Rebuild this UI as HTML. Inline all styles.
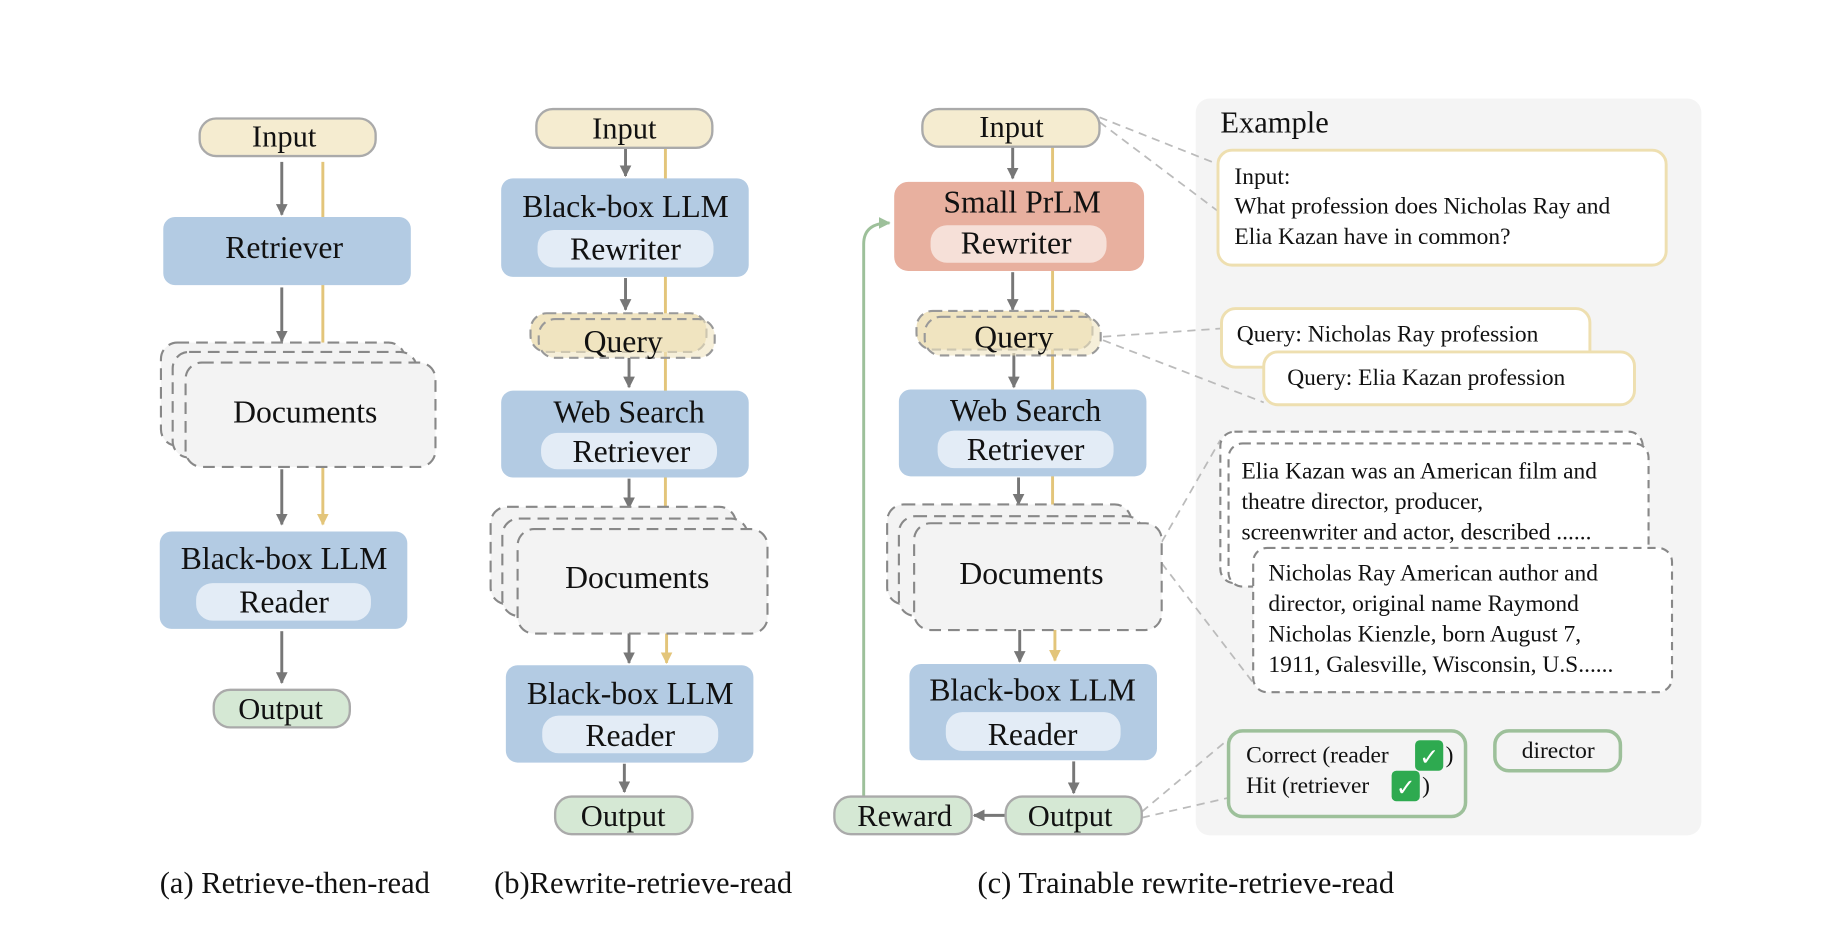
<!DOCTYPE html>
<html><head><meta charset="utf-8"><style>
html,body{margin:0;padding:0;background:#fff;width:1840px;height:928px;overflow:hidden}
svg{display:block}
svg text{font-family:"Liberation Serif","Times New Roman","Nimbus Roman","DejaVu Serif",serif;fill:#111}
</style></head><body>
<svg width="1840" height="928" viewBox="0 0 1568 791" xmlns="http://www.w3.org/2000/svg" font-family="'Liberation Serif', 'Times New Roman', serif">
<defs>
<marker id="ag" viewBox="0 0 10 10" refX="9" refY="5" markerWidth="4" markerHeight="4" orient="auto"><path d="M0,0 L10,5 L0,10 z" fill="#777"/></marker>
<marker id="ay" viewBox="0 0 10 10" refX="9" refY="5" markerWidth="4" markerHeight="4" orient="auto"><path d="M0,0 L10,5 L0,10 z" fill="#e3c57a"/></marker>
<marker id="agr" viewBox="0 0 10 10" refX="9" refY="5" markerWidth="4" markerHeight="4" orient="auto"><path d="M0,0 L10,5 L0,10 z" fill="#9dc09a"/></marker>
</defs>
<g stroke-width="2.5" fill="none">
<line x1="275" y1="138" x2="275" y2="292" stroke="#e3c57a"/>
<line x1="275" y1="398" x2="275" y2="447" stroke="#e3c57a" marker-end="url(#ay)"/>
<line x1="240" y1="138" x2="240" y2="183" stroke="#777" marker-end="url(#ag)"/>
<line x1="240" y1="245" x2="240" y2="291" stroke="#777" marker-end="url(#ag)"/>
<line x1="240" y1="400" x2="240" y2="447" stroke="#777" marker-end="url(#ag)"/>
<line x1="240" y1="538" x2="240" y2="582" stroke="#777" marker-end="url(#ag)"/>
<line x1="567" y1="126" x2="567" y2="432" stroke="#e3c57a"/>
<line x1="568" y1="540" x2="568" y2="565" stroke="#e3c57a" marker-end="url(#ay)"/>
<line x1="533" y1="126" x2="533" y2="150" stroke="#777" marker-end="url(#ag)"/>
<line x1="533" y1="237" x2="533" y2="264" stroke="#777" marker-end="url(#ag)"/>
<line x1="536" y1="305" x2="536" y2="330" stroke="#777" marker-end="url(#ag)"/>
<line x1="536" y1="408" x2="536" y2="433" stroke="#777" marker-end="url(#ag)"/>
<line x1="536" y1="536" x2="536" y2="565" stroke="#777" marker-end="url(#ag)"/>
<line x1="532" y1="651" x2="532" y2="675" stroke="#777" marker-end="url(#ag)"/>
<line x1="897" y1="125" x2="897" y2="430" stroke="#e3c57a"/>
<line x1="899" y1="537" x2="899" y2="563" stroke="#e3c57a" marker-end="url(#ay)"/>
<line x1="863" y1="125" x2="863" y2="152" stroke="#777" marker-end="url(#ag)"/>
<line x1="863" y1="232" x2="863" y2="264" stroke="#777" marker-end="url(#ag)"/>
<line x1="864" y1="301" x2="864" y2="330" stroke="#777" marker-end="url(#ag)"/>
<line x1="868" y1="407" x2="868" y2="430" stroke="#777" marker-end="url(#ag)"/>
<line x1="869" y1="532" x2="869" y2="564" stroke="#777" marker-end="url(#ag)"/>
<line x1="915" y1="649" x2="915" y2="676" stroke="#777" marker-end="url(#ag)"/>
<line x1="857" y1="695" x2="830" y2="695" stroke="#777" marker-end="url(#ag)"/>
<path d="M736,679 L736,208 Q736,190 758,190" stroke="#9dc09a" marker-end="url(#agr)"/>
</g>

<rect x="1019" y="84" width="431" height="628" rx="12" fill="#f4f4f4"/>
<g stroke="#bbb" stroke-width="1.5" stroke-dasharray="7,5" fill="none">
<line x1="937" y1="100" x2="1038" y2="140"/><line x1="937" y1="104" x2="1038" y2="180"/>
<line x1="940" y1="287" x2="1041" y2="280"/><line x1="940" y1="290" x2="1077" y2="343"/>
<line x1="990" y1="462" x2="1040" y2="375"/><line x1="990" y1="480" x2="1068" y2="582"/>
<line x1="973" y1="692" x2="1047" y2="630"/><line x1="973" y1="697" x2="1047" y2="680"/>
</g>

<rect x="170" y="101" width="150" height="32" rx="14" fill="#f5ecd0" stroke="#aaa" stroke-width="2"/>
<text x="242" y="125" font-size="26" text-anchor="middle">Input</text>
<rect x="139" y="185" width="211" height="58" rx="10" fill="#b3cbe3"/>
<text x="242" y="220" font-size="27" text-anchor="middle">Retriever</text>
<g fill="#f3f3f3" stroke="#888" stroke-width="1.8" stroke-dasharray="10,6">
<rect x="137" y="292" width="208" height="88" rx="14"/>
<rect x="147" y="300" width="208" height="90" rx="14"/>
<rect x="158" y="309" width="213" height="89" rx="14"/>
</g>
<text x="260" y="360" font-size="27" text-anchor="middle">Documents</text>
<rect x="136" y="453" width="211" height="83" rx="10" fill="#b3cbe3"/>
<text x="242" y="485" font-size="27" text-anchor="middle">Black-box LLM</text>
<rect x="167" y="497" width="149" height="32" rx="14" fill="#e3ecf6"/>
<text x="242" y="522" font-size="27" text-anchor="middle">Reader</text>
<rect x="182" y="588" width="116" height="32" rx="14" fill="#d5e8d4" stroke="#aaa" stroke-width="2"/>
<text x="239" y="613" font-size="26" text-anchor="middle">Output</text>
<text x="136" y="761" font-size="26">(a) Retrieve-then-read</text>

<rect x="457" y="93" width="150" height="33" rx="14" fill="#f5ecd0" stroke="#aaa" stroke-width="2"/>
<text x="532" y="118" font-size="26" text-anchor="middle">Input</text>
<rect x="427" y="152" width="211" height="84" rx="10" fill="#b3cbe3"/>
<text x="533" y="185" font-size="27" text-anchor="middle">Black-box LLM</text>
<rect x="458" y="196" width="150" height="32" rx="14" fill="#e3ecf6"/>
<text x="533" y="221" font-size="27" text-anchor="middle">Rewriter</text>
<g fill="#f0e4c0" stroke="#999" stroke-width="1.8" stroke-dasharray="8,5">
<rect x="452" y="267" width="150" height="33" rx="14"/>
<rect x="459" y="272" width="150" height="33" rx="14" fill-opacity="0.6"/>
</g>
<text x="531" y="300" font-size="27" text-anchor="middle">Query</text>
<rect x="427" y="333" width="211" height="74" rx="10" fill="#b3cbe3"/>
<text x="536" y="360" font-size="27" text-anchor="middle">Web Search</text>
<rect x="461" y="369" width="150" height="31" rx="14" fill="#e3ecf6"/>
<text x="538" y="394" font-size="27" text-anchor="middle">Retriever</text>
<g fill="#f3f3f3" stroke="#888" stroke-width="1.8" stroke-dasharray="10,6">
<rect x="418" y="432" width="209" height="83" rx="14"/>
<rect x="428" y="442" width="209" height="83" rx="14"/>
<rect x="441" y="451" width="213" height="89" rx="14"/>
</g>
<text x="543" y="501" font-size="27" text-anchor="middle">Documents</text>
<rect x="431" y="567" width="211" height="83" rx="10" fill="#b3cbe3"/>
<text x="537" y="600" font-size="27" text-anchor="middle">Black-box LLM</text>
<rect x="462" y="610" width="150" height="32" rx="14" fill="#e3ecf6"/>
<text x="537" y="636" font-size="27" text-anchor="middle">Reader</text>
<rect x="473" y="679" width="117" height="32" rx="14" fill="#d5e8d4" stroke="#aaa" stroke-width="2"/>
<text x="531" y="704" font-size="26" text-anchor="middle">Output</text>
<text x="421" y="761" font-size="26">(b)Rewrite-retrieve-read</text>

<rect x="786" y="93" width="151" height="32" rx="14" fill="#f5ecd0" stroke="#aaa" stroke-width="2"/>
<text x="862" y="117" font-size="26" text-anchor="middle">Input</text>
<rect x="762" y="155" width="213" height="76" rx="12" fill="#e8b09f"/>
<text x="871" y="181" font-size="27" text-anchor="middle">Small PrLM</text>
<rect x="793" y="192" width="150" height="32" rx="14" fill="#f6e0d8"/>
<text x="866" y="216" font-size="27" text-anchor="middle">Rewriter</text>
<g fill="#f0e4c0" stroke="#999" stroke-width="1.8" stroke-dasharray="8,5">
<rect x="781" y="265" width="150" height="33" rx="14"/>
<rect x="788" y="270" width="150" height="33" rx="14" fill-opacity="0.6"/>
</g>
<text x="864" y="296" font-size="27" text-anchor="middle">Query</text>
<rect x="766" y="332" width="211" height="74" rx="10" fill="#b3cbe3"/>
<text x="874" y="359" font-size="27" text-anchor="middle">Web Search</text>
<rect x="799" y="367" width="150" height="32" rx="14" fill="#e3ecf6"/>
<text x="874" y="392" font-size="27" text-anchor="middle">Retriever</text>
<g fill="#f3f3f3" stroke="#888" stroke-width="1.8" stroke-dasharray="10,6">
<rect x="756" y="430" width="208" height="85" rx="14"/>
<rect x="766" y="440" width="208" height="85" rx="14"/>
<rect x="779" y="446" width="211" height="91" rx="14"/>
</g>
<text x="879" y="498" font-size="27" text-anchor="middle">Documents</text>
<rect x="775" y="566" width="211" height="82" rx="10" fill="#b3cbe3"/>
<text x="880" y="597" font-size="27" text-anchor="middle">Black-box LLM</text>
<rect x="806" y="607" width="149" height="33" rx="14" fill="#e3ecf6"/>
<text x="880" y="635" font-size="27" text-anchor="middle">Reader</text>
<rect x="857" y="679" width="116" height="32" rx="14" fill="#d5e8d4" stroke="#aaa" stroke-width="2"/>
<text x="912" y="704" font-size="26" text-anchor="middle">Output</text>
<rect x="711" y="679" width="117" height="32" rx="14" fill="#d5e8d4" stroke="#aaa" stroke-width="2"/>
<text x="771" y="704" font-size="26" text-anchor="middle">Reward</text>
<text x="833" y="761" font-size="26">(c) Trainable rewrite-retrieve-read</text>

<text x="1040" y="113" font-size="26">Example</text>
<rect x="1038" y="128" width="382" height="98" rx="12" fill="#fff" stroke="#eedfb0" stroke-width="2.5"/>
<text x="1052" y="157" font-size="20">Input:</text>
<text x="1052" y="182" font-size="20">What profession does Nicholas Ray and</text>
<text x="1052" y="208" font-size="20">Elia Kazan have in common?</text>
<rect x="1041" y="263" width="314" height="50" rx="12" fill="#fff" stroke="#eedfb0" stroke-width="2.5"/>
<text x="1054" y="291" font-size="20">Query: Nicholas Ray profession</text>
<rect x="1077" y="300" width="316" height="45" rx="12" fill="#fff" stroke="#eedfb0" stroke-width="2.5"/>
<text x="1097" y="328" font-size="20">Query: Elia Kazan profession</text>
<g fill="#fff" stroke="#888" stroke-width="1.8" stroke-dasharray="7,5">
<rect x="1040" y="368" width="360" height="129" rx="12"/>
<rect x="1047" y="378" width="358" height="122" rx="12"/>
</g>
<text x="1058" y="408" font-size="20">Elia Kazan was an American film and</text>
<text x="1058" y="434" font-size="20">theatre director, producer,</text>
<text x="1058" y="460" font-size="20">screenwriter and actor, described  ......</text>
<rect x="1068" y="467" width="357" height="123" rx="12" fill="#fff" stroke="#888" stroke-width="1.8" stroke-dasharray="7,5"/>
<text x="1081" y="495" font-size="20">Nicholas Ray American author and</text>
<text x="1081" y="521" font-size="20">director, original name Raymond</text>
<text x="1081" y="547" font-size="20">Nicholas Kienzle, born August 7,</text>
<text x="1081" y="573" font-size="20">1911, Galesville, Wisconsin, U.S......</text>
<rect x="1047" y="623" width="202" height="73" rx="12" fill="#f4f4f4" stroke="#9dc09a" stroke-width="3"/>
<text x="1062" y="650" font-size="20">Correct (reader</text>
<rect x="1206" y="631" width="24" height="26" rx="4" fill="#2eaa50"/>
<text x="1218" y="652" font-size="20" text-anchor="middle" style="fill:#fff">✓</text>
<text x="1232" y="650" font-size="20">)</text>
<text x="1062" y="676" font-size="20">Hit (retriever</text>
<rect x="1186" y="657" width="24" height="26" rx="4" fill="#2eaa50"/>
<text x="1198" y="678" font-size="20" text-anchor="middle" style="fill:#fff">✓</text>
<text x="1212" y="676" font-size="20">)</text>
<rect x="1274" y="623" width="107" height="34" rx="12" fill="#f4f4f4" stroke="#9dc09a" stroke-width="3"/>
<text x="1328" y="646" font-size="20" text-anchor="middle">director</text>
</svg>
</body></html>
